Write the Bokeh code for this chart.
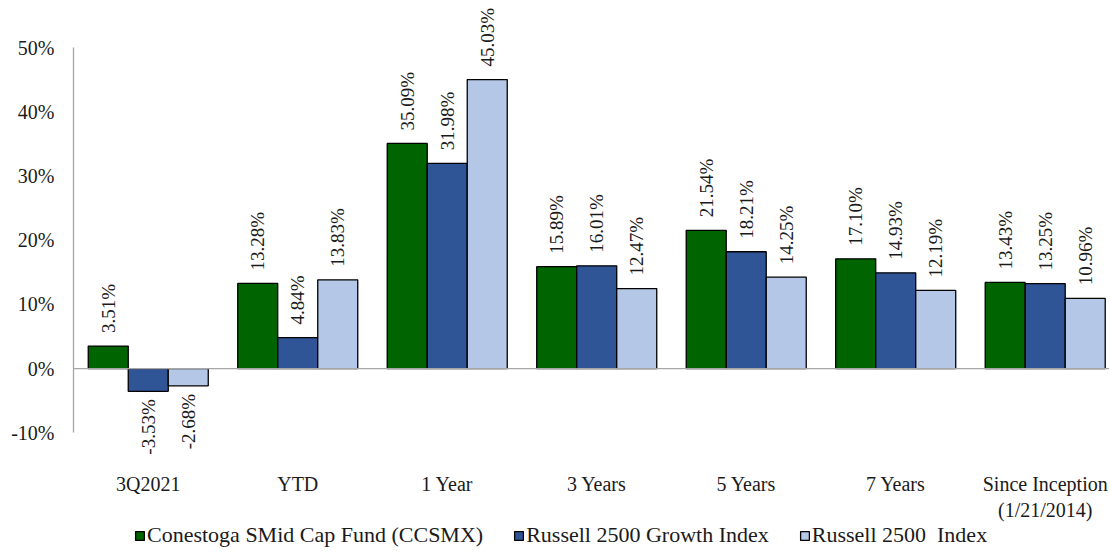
import numpy as np
from bokeh.plotting import figure
from bokeh.models import (ColumnDataSource, Range1d, FixedTicker, PrintfTickFormatter,
                          Span, Legend, LegendItem)
from bokeh.core.properties import value
from bokeh.embed import file_html
from bokeh.resources import INLINE

categories = ["3Q2021", "YTD", "1 Year", "3 Years", "5 Years", "7 Years", "Since Inception\n(1/21/2014)"]
fund = [3.51, 13.28, 35.09, 15.89, 21.54, 17.10, 13.43]
growth = [-3.53, 4.84, 31.98, 16.01, 18.21, 14.93, 13.25]
index2500 = [-2.68, 13.83, 45.03, 12.47, 14.25, 12.19, 10.96]
series_names = ["Conestoga SMid Cap Fund (CCSMX)", "Russell 2500 Growth Index", "Russell 2500  Index"]
y_ticks = [-10, 0, 10, 20, 30, 40, 50]

colors = ["#006400", "#2F5597", "#B4C7E7"]
FONT = "Liberation Serif"
bw = 0.2676

p = figure(frame_width=1036, frame_height=548, output_backend="svg", toolbar_location=None,
           x_range=Range1d(0, 6.93), y_range=Range1d(-28.02, 57.35),
           x_axis_location=None,
           min_border_left=73, min_border_right=0, min_border_top=0, min_border_bottom=0)
p.outline_line_color = None
p.grid.visible = False
p.background_fill_color = "white"

centers = np.arange(len(categories)) + 0.5
renderers = []
for k, (vals, col) in enumerate(zip([fund, growth, index2500], colors)):
    xs = centers + (k - 1) * bw
    v = np.array(vals)
    src = ColumnDataSource(dict(x=xs, top=v))
    r = p.vbar(x="x", top="top", bottom=0, width=bw, source=src,
               fill_color=col, line_color="black", line_width=1.3)
    renderers.append(r)
    pos = ColumnDataSource(dict(x=xs[v >= 0], y=v[v >= 0],
                                lab=[f"{a:.2f}%" for a in v[v >= 0]]))
    neg = ColumnDataSource(dict(x=xs[v < 0], y=v[v < 0],
                                lab=[f"{a:.2f}%" for a in v[v < 0]]))
    p.text(x="x", y="y", text="lab", source=pos, angle=np.pi / 2, y_offset=-13,
           text_align="left", text_baseline="middle", text_font=value(FONT),
           text_font_size="19px", text_color="#1a1a1a")
    p.text(x="x", y="y", text="lab", source=neg, angle=np.pi / 2, y_offset=8,
           text_align="right", text_baseline="middle", text_font=value(FONT),
           text_font_size="19px", text_color="#1a1a1a")

# category labels under the value axis' lower bound
cat_src = ColumnDataSource(dict(x=centers, y=[y_ticks[0]] * len(categories), lab=categories))
p.text(x="x", y="y", text="lab", source=cat_src, y_offset=40,
       text_align="center", text_baseline="top", text_font=value(FONT),
       text_font_size="20px", text_color="#1a1a1a", text_line_height=1.2)

p.add_layout(Span(location=0, dimension="width", line_color="#A6A6A6", line_width=1.3))

ya = p.yaxis[0]
ya.ticker = FixedTicker(ticks=y_ticks)
ya.formatter = PrintfTickFormatter(format="%d%%")
ya.bounds = (y_ticks[0], y_ticks[-1])
ya.axis_line_color = "#A6A6A6"
ya.axis_line_width = 1.3
ya.major_tick_line_color = None
ya.minor_tick_line_color = None
ya.major_tick_out = 0
ya.major_tick_in = 0
ya.major_label_standoff = 19
ya.major_label_text_font = FONT
ya.major_label_text_font_size = "20px"
ya.major_label_text_color = "#1a1a1a"

legend = Legend(items=[LegendItem(label=n, renderers=[r]) for n, r in zip(series_names, renderers)],
                orientation="horizontal", location=(61, 0), border_line_color=None,
                background_fill_alpha=0,
                glyph_width=11, glyph_height=11, label_text_font=FONT, label_text_font_size="22px",
                label_text_color="#1a1a1a", spacing=30, label_standoff=2, padding=0, margin=0,
                label_height=18)
p.add_layout(legend, "center")

open("out.html", "w").write(file_html(p, INLINE))
